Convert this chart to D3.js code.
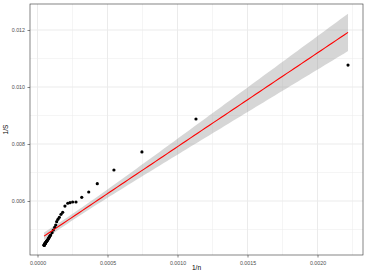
<!DOCTYPE html>
<html>
<head>
<meta charset="utf-8">
<script src="https://cdn.jsdelivr.net/npm/d3@7"></script>
<style>
  html, body { margin: 0; padding: 0; background: #fff; }
  svg { display: block; font-family: "Liberation Sans", Arial, sans-serif; }
</style>
</head>
<body>
<svg id="chart" width="369" height="273"></svg>
<script>
// Scatter of 1/S against 1/n with a linear fit (ggplot-ish theme_bw look).
// Points.
const invN = [
  0.002218, 0.001132, 0.000746, 0.000546, 0.000427, 0.000366, 0.000316,
  0.000275, 0.000251, 0.000232, 0.000216, 0.000196,
  0.000180, 0.000168, 0.000156, 0.000146, 0.000137, 0.000130, 0.000123,
  0.000113, 0.000104, 0.000094, 0.000084, 0.000075, 0.000066, 0.000058,
  0.000051, 0.000049,
  0.000090, 0.000086, 0.000080, 0.000078, 0.000072, 0.000070, 0.000068,
  0.000064, 0.000062, 0.000060, 0.000056, 0.000054, 0.000053, 0.000052,
  0.000050, 0.000050, 0.000049, 0.000048, 0.000048, 0.000047
];
const invS = [
  0.01077, 0.008877, 0.00772, 0.007088, 0.006607, 0.006316, 0.00613,
  0.005965, 0.005965, 0.00594, 0.00592, 0.00582,
  0.005603, 0.005533, 0.005428, 0.005358, 0.005274, 0.005158, 0.005077,
  0.004982, 0.004888, 0.004807, 0.004726, 0.004656, 0.004596, 0.004537,
  0.00448, 0.004456,
  0.004780, 0.004750, 0.004700, 0.004680, 0.004630, 0.004620, 0.004610,
  0.004580, 0.004570, 0.004550, 0.004520, 0.004510, 0.004500, 0.004495,
  0.004490, 0.004470, 0.004465, 0.004460, 0.004450, 0.004445
];
const xTicks = [0, 0.0005, 0.001, 0.0015, 0.002];
const xTickLabels = ["0.0000", "0.0005", "0.0010", "0.0015", "0.0020"];
const xMinor = [0.00025, 0.00075, 0.00125, 0.00175, 0.00225];
const yTicks = [0.006, 0.008, 0.010, 0.012];
const yTickLabels = ["0.006", "0.008", "0.010", "0.012"];
const yMinor = [0.005, 0.007, 0.009, 0.011];

const svg = d3.select('#chart');
const panel = { left: 30, right: 363, top: 4, bottom: 255 };

const x = d3.scaleLinear().domain([-0.0000536, 0.002325]).range([panel.left, panel.right]);
const y = d3.scaleLinear().domain([0.004105, 0.012912]).range([panel.bottom, panel.top]);

const pts = invN.map((v, i) => ({ x: v, y: invS[i] }));

// ordinary least squares + 95% confidence band, like geom_smooth(method = "lm")
const n = pts.length;
const mx = d3.mean(pts, d => d.x), my = d3.mean(pts, d => d.y);
const sxx = d3.sum(pts, d => (d.x - mx) ** 2);
const sxy = d3.sum(pts, d => (d.x - mx) * (d.y - my));
const slope = sxy / sxx;
const icpt = my - slope * mx;
const sigma = Math.sqrt(d3.sum(pts, d => (d.y - icpt - slope * d.x) ** 2) / (n - 2));
const tval = 2.013;  // t(0.975, ~46 df)
const [xmin, xmax] = d3.extent(pts, d => d.x);
const fit = d3.range(80).map(i => {
  const xv = xmin + (xmax - xmin) * i / 79;
  const se = sigma * Math.sqrt(1 / n + (xv - mx) ** 2 / sxx);
  const yv = icpt + slope * xv;
  return { x: xv, y: yv, lo: yv - tval * se, hi: yv + tval * se };
});

// panel background + grid
const grid = svg.append('g');
grid.selectAll('line.xmin').data(xMinor.filter(v => x(v) < panel.right)).enter().append('line')
  .attr('x1', d => x(d)).attr('x2', d => x(d)).attr('y1', panel.top).attr('y2', panel.bottom)
  .attr('stroke', '#ebebeb').attr('stroke-width', 0.5);
grid.selectAll('line.ymin').data(yMinor).enter().append('line')
  .attr('y1', d => y(d)).attr('y2', d => y(d)).attr('x1', panel.left).attr('x2', panel.right)
  .attr('stroke', '#ebebeb').attr('stroke-width', 0.5);
grid.selectAll('line.xmaj').data(xTicks).enter().append('line')
  .attr('x1', d => x(d)).attr('x2', d => x(d)).attr('y1', panel.top).attr('y2', panel.bottom)
  .attr('stroke', '#ebebeb').attr('stroke-width', 1);
grid.selectAll('line.ymaj').data(yTicks).enter().append('line')
  .attr('y1', d => y(d)).attr('y2', d => y(d)).attr('x1', panel.left).attr('x2', panel.right)
  .attr('stroke', '#ebebeb').attr('stroke-width', 1);

// confidence band, then points, then the fit line
svg.append('path')
  .datum(fit)
  .attr('d', d3.area().x(d => x(d.x)).y0(d => y(d.lo)).y1(d => y(d.hi)))
  .attr('fill', '#999999').attr('fill-opacity', 0.4);

svg.append('g').selectAll('circle').data(pts).enter().append('circle')
  .attr('cx', d => x(d.x)).attr('cy', d => y(d.y)).attr('r', 1.6)
  .attr('fill', '#000');

svg.append('path')
  .datum(fit)
  .attr('d', d3.line().x(d => x(d.x)).y(d => y(d.y)))
  .attr('fill', 'none').attr('stroke', '#ff0000').attr('stroke-width', 1.1);

// border
svg.append('rect')
  .attr('x', panel.left).attr('y', panel.top)
  .attr('width', panel.right - panel.left).attr('height', panel.bottom - panel.top)
  .attr('fill', 'none').attr('stroke', '#333').attr('stroke-width', 0.6);

// axes
const xAxis = d3.axisBottom(x).tickValues(xTicks).tickFormat((d, i) => xTickLabels[i])
  .tickSize(2.5).tickSizeOuter(0);
const gx = svg.append('g').attr('transform', `translate(0,${panel.bottom})`).call(xAxis);
gx.select('.domain').remove();
gx.selectAll('line').attr('stroke', '#333').attr('stroke-width', 0.6);
gx.selectAll('text').attr('fill', '#4d4d4d').style('font-size', '5.3px').attr('dy', '0.9em');

const yAxis = d3.axisLeft(y).tickValues(yTicks).tickFormat((d, i) => yTickLabels[i])
  .tickSize(2.5).tickSizeOuter(0);
const gy = svg.append('g').attr('transform', `translate(${panel.left},0)`).call(yAxis);
gy.select('.domain').remove();
gy.selectAll('line').attr('stroke', '#333').attr('stroke-width', 0.6);
gy.selectAll('text').attr('fill', '#4d4d4d').style('font-size', '5.3px').attr('x', -5);

// axis titles
svg.append('text')
  .attr('x', (panel.left + panel.right) / 2).attr('y', 270)
  .attr('text-anchor', 'middle').style('font-size', '6.6px').attr('fill', '#000')
  .text('1/n');
svg.append('text')
  .attr('transform', `translate(8,${(panel.top + panel.bottom) / 2}) rotate(-90)`)
  .attr('text-anchor', 'middle').style('font-size', '6.6px').attr('fill', '#000')
  .text('1/S');
</script>
</body>
</html>
